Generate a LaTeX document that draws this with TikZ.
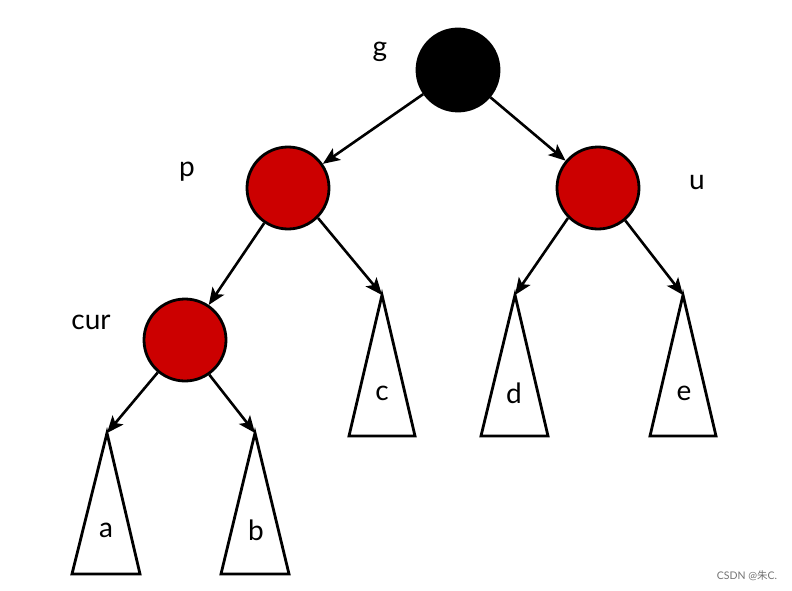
\documentclass[tikz,border=0pt]{standalone}
\usepackage{fontspec}
\setmainfont{Lato}
\newfontfamily\cjkfont{Noto Sans CJK SC}
\usetikzlibrary{arrows.meta}
\definecolor{rbred}{RGB}{204,0,0}
\begin{document}
\begin{tikzpicture}[x=1pt,y=-1pt,
  rbnode/.style={circle,draw=black,line width=2.8pt,minimum size=82pt,inner sep=0pt},
  rednode/.style={rbnode,fill=rbred},
  blacknode/.style={rbnode,fill=black},
  lbl/.style={font=\fontsize{28}{32}\selectfont,inner sep=0pt},
  sub/.style={draw=black,line width=2.8pt,fill=white,line join=miter},
  edge/.style={line width=2.6pt,-{Stealth[length=17pt,width=14pt,inset=4pt]}}]
\useasboundingbox (0,0) rectangle (792,591);
\node[blacknode] (g) at (458,70) {};
\node[rednode] (p) at (288,188) {};
\node[rednode] (u) at (598,188) {};
\node[rednode] (cur) at (185,340) {};
\node[lbl] (lg) at (380,52) {g};
\node[lbl] (lp) at (187,172) {p};
\node[lbl] (lu) at (697,183) {u};
\node[lbl] (lcur) at (91,322) {cur};
% subtrees
\coordinate (ta) at (107,433);
\coordinate (tb) at (255,433);
\coordinate (tc) at (382,295);
\coordinate (td) at (515,295);
\coordinate (te) at (683,295);
\draw[sub] (ta) -- (140,574) -- (72,574) -- cycle;
\draw[sub] (tb) -- (289,574) -- (221,574) -- cycle;
\draw[sub] (tc) -- (415,436) -- (349,436) -- cycle;
\draw[sub] (td) -- (548,436) -- (481,436) -- cycle;
\draw[sub] (te) -- (716,436) -- (650,436) -- cycle;
\node[lbl] (la) at (106,530) {a};
\node[lbl] (lb) at (256,530) {b};
\node[lbl] (lc) at (382,393) {c};
\node[lbl] (ld) at (514,393) {d};
\node[lbl] (le) at (684,393) {e};
% edges
\draw[edge] (g) -- (p);
\draw[edge] (g) -- (u);
\draw[edge] (p) -- (cur);
\draw[edge] (p.-45) -- (tc);
\draw[edge] (u.-135) -- (td);
\draw[edge] (u.-50) -- (te);
\draw[edge] (cur.-130) -- (ta);
\draw[edge] (cur.-55) -- (tb);
\node[text=black!55,font=\fontsize{10.5}{12}\selectfont,inner sep=0pt] (wm) at (747,576) {CSDN @{\cjkfont 朱}C.};
\end{tikzpicture}
\end{document}
